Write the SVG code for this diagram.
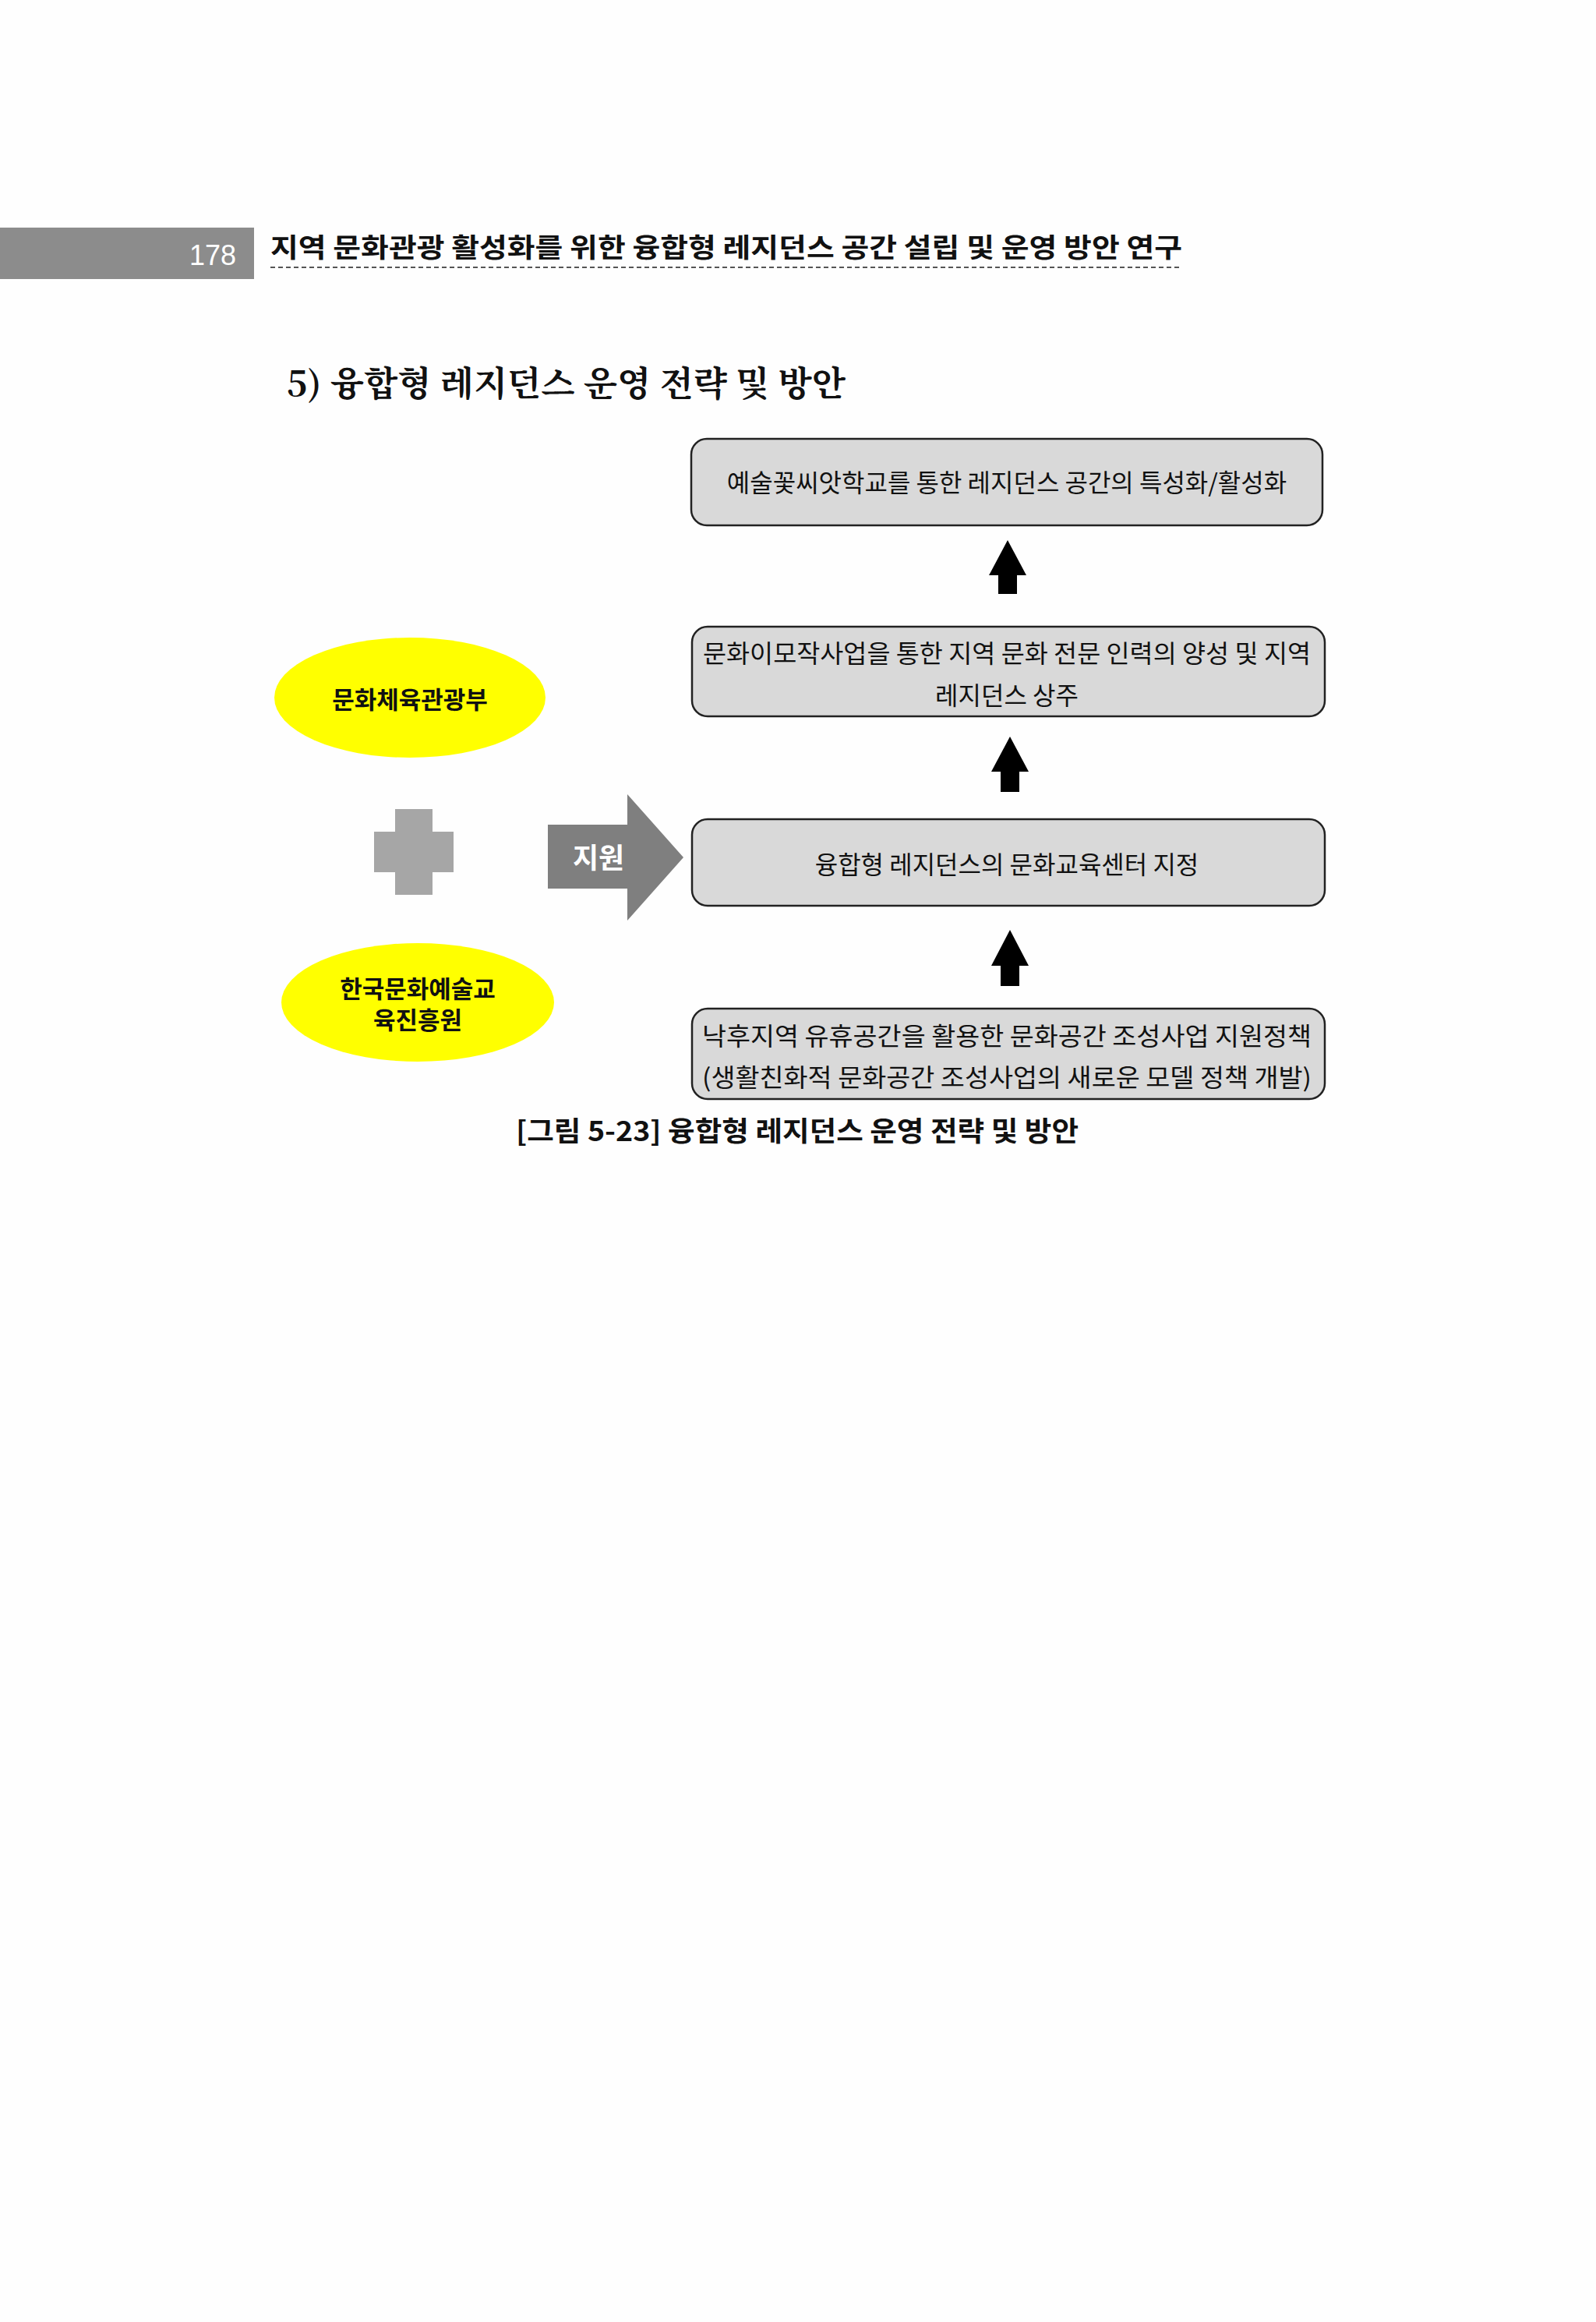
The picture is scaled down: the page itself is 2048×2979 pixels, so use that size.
<svg xmlns="http://www.w3.org/2000/svg" width="2048" height="2979" viewBox="0 0 2048 2979">
<style>
.t{font-family:"Noto Sans CJK KR","Noto Sans",sans-serif;fill:#111}
.box{fill:#d9d9d9;stroke:#222;stroke-width:2.5}
.ell{fill:#ffff00}
.b{font-weight:bold}
</style>
<rect width="2048" height="2979" fill="#fefefe"/>
<g id="header">
<rect x="0" y="292" width="326" height="66" fill="#8c8c8c"/>
<text x="303" y="340" text-anchor="end" font-family="Liberation Sans,sans-serif" font-size="36" fill="#fff">178</text>
<text class="t b" x="347" y="330" font-size="34" textLength="1170" lengthAdjust="spacingAndGlyphs">지역 문화관광 활성화를 위한 융합형 레지던스 공간 설립 및 운영 방안 연구</text>
<line x1="347" y1="343" x2="1517" y2="343" stroke="#555" stroke-width="2" stroke-dasharray="6,4"/>
</g>
<g id="heading">
<text x="368" y="508" font-family="Noto Serif CJK KR,Liberation Serif,Noto Sans CJK KR,serif" font-weight="bold" font-size="44" fill="#111" textLength="717" lengthAdjust="spacingAndGlyphs">5) 융합형 레지던스 운영 전략 및 방안</text>
</g>
<g id="box1">
<rect class="box" x="887" y="563" width="810" height="111" rx="20"/>
<text class="t" x="1292" y="631" text-anchor="middle" font-size="32">예술꽃씨앗학교를 통한 레지던스 공간의 특성화/활성화</text>
</g>
<g id="box2">
<rect class="box" x="888" y="804" width="812" height="115" rx="20"/>
<text class="t" x="1292" y="850" text-anchor="middle" font-size="32" textLength="780" lengthAdjust="spacingAndGlyphs">문화이모작사업을 통한 지역 문화 전문 인력의 양성 및 지역</text>
<text class="t" x="1292" y="904" text-anchor="middle" font-size="32">레지던스 상주</text>
</g>
<g id="box3">
<rect class="box" x="888" y="1051" width="812" height="111" rx="20"/>
<text class="t" x="1292" y="1121" text-anchor="middle" font-size="32">융합형 레지던스의 문화교육센터 지정</text>
</g>
<g id="box4">
<rect class="box" x="888" y="1294" width="812" height="116" rx="20"/>
<text class="t" x="1292" y="1341" text-anchor="middle" font-size="32" textLength="782" lengthAdjust="spacingAndGlyphs">낙후지역 유휴공간을 활용한 문화공간 조성사업 지원정책</text>
<text class="t" x="1292" y="1394" text-anchor="middle" font-size="32" textLength="782" lengthAdjust="spacingAndGlyphs">(생활친화적 문화공간 조성사업의 새로운 모델 정책 개발)</text>
</g>
<g id="ministry">
<ellipse class="ell" cx="526" cy="895" rx="174" ry="77"/>
<text class="t b" x="526" y="909" text-anchor="middle" font-size="31">문화체육관광부</text>
</g>
<g id="arko">
<ellipse class="ell" cx="536" cy="1286" rx="175" ry="76"/>
<text class="t b" x="536" y="1280" text-anchor="middle" font-size="31">한국문화예술교</text>
<text class="t b" x="536" y="1320" text-anchor="middle" font-size="31">육진흥원</text>
</g>
<g id="plus">
<path d="M507 1038H555V1067H582V1119H555V1148H507V1119H480V1067H507Z" fill="#a6a6a6"/>
</g>
<g id="support">
<path d="M703 1058H805V1019L877 1100L805 1181V1140H703Z" fill="#7f7f7f"/>
<text x="768" y="1114" text-anchor="middle" font-family="Noto Sans CJK KR,sans-serif" font-weight="bold" font-size="36" fill="#fff">지원</text>
</g>
<g id="connectors">
<path d="M1296 945L1320 990H1308V1016H1284V990H1272Z" fill="#000"/>
<path d="M1296 1193L1320 1239H1308V1265H1284V1239H1272Z" fill="#000"/>
<path d="M1293 693L1317 738H1305V762H1281V738H1269Z" fill="#000"/>
</g>
<g id="caption">
<text class="t b" x="1023" y="1464" text-anchor="middle" font-size="35" textLength="722" lengthAdjust="spacingAndGlyphs">[그림 5-23] 융합형 레지던스 운영 전략 및 방안</text>
</g>
</svg>
